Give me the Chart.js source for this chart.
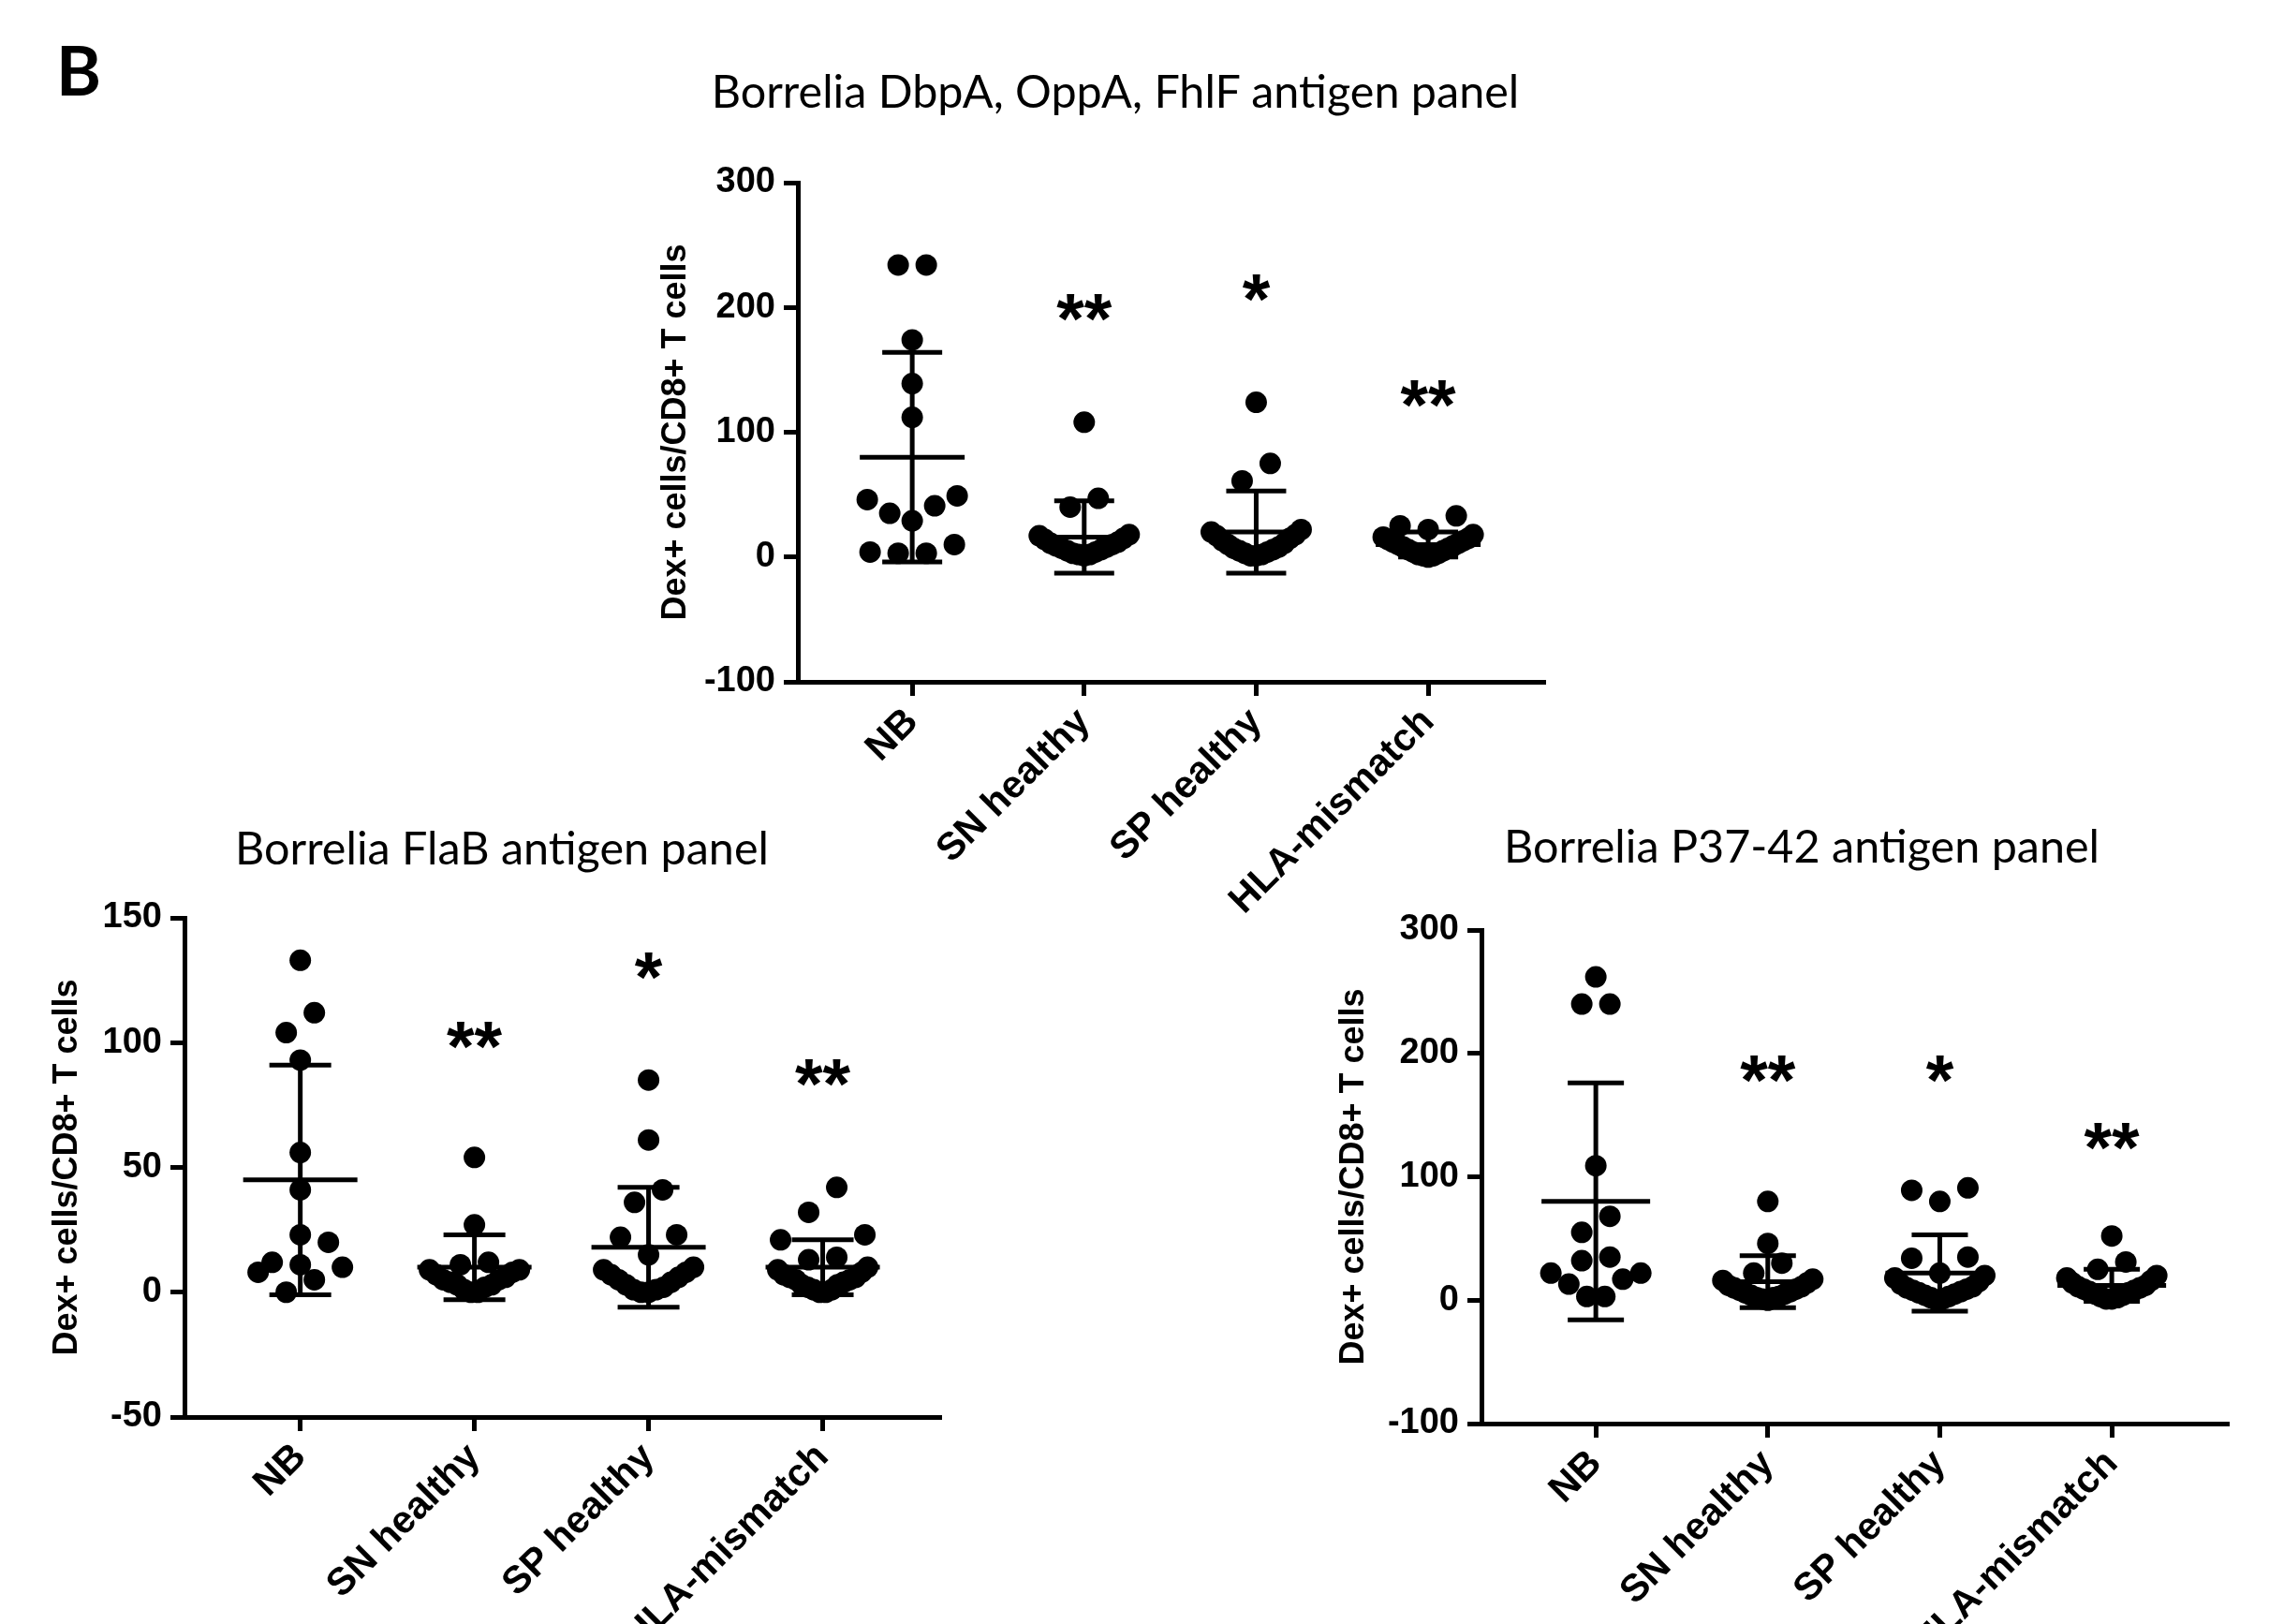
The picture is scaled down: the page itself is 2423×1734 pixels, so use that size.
<!DOCTYPE html>
<html>
<head>
<meta charset="utf-8">
<script src="https://cdn.jsdelivr.net/npm/chart.js@4.4.1/dist/chart.umd.min.js"></script>
<style>
  html, body { margin: 0; padding: 0; background: #fff; }
  body { width: 2423px; height: 1734px; position: relative; overflow: hidden; }
  canvas { position: absolute; }
  .ttl { position: absolute; font-family: Lato, "Open Sans", sans-serif; font-size: 48.5px; color: #000;
         white-space: nowrap; line-height: 1; transform: translate(-50%, -50%); z-index: 5; }
  #panelLetter { position: absolute; left: 60px; top: 38px; font-family: Lato, "Open Sans", sans-serif;
                 font-weight: bold; font-size: 73px; line-height: 1; color: #000; }
</style>
</head>
<body>
<div id="panelLetter">B</div>
<div class="ttl" style="left:1191px; top:96px;">Borrelia DbpA, OppA, FhlF antigen panel</div>
<div class="ttl" style="left:536px; top:904px;">Borrelia FlaB antigen panel</div>
<div class="ttl" style="left:1924px; top:902px;">Borrelia P37-42 antigen panel</div>

<canvas id="dbpChart" width="1000" height="850" style="left:680px; top:150px;"></canvas>
<canvas id="flabChart" width="1040" height="794" style="left:0px; top:940px;"></canvas>
<canvas id="p37Chart" width="1043" height="784" style="left:1380px; top:950px;"></canvas>

<script>
const groups = ['NB', 'SN healthy', 'SP healthy', 'HLA-mismatch'];
const yTitle = 'Dex+ cells/CD8+ T cells';

// DbpA, OppA, FhlF panel
const dbpNB  = [234, 234, 174, 139, 112, 49, 46, 41, 35, 29, 10, 4, 3, 3];
const dbpSN  = [108, 47, 40, 18, 17, 15, 14, 12, 11, 10, 9, 8, 7, 6, 5, 4, 3, 2, 2, 1];
const dbpSP  = [124, 75, 61, 22, 20, 18, 17, 15, 13, 11, 10, 8, 7, 6, 5, 4, 3, 2, 1, 1];
const dbpHLA = [33, 25, 22, 18, 16, 15, 14, 13, 12, 11, 10, 9, 8, 7, 6, 5, 4, 3, 2, 1, 1, 0];
const dbpMean = [80, 16, 20, 10];
const dbpSD   = [84, 29, 33, 10];
const dbpStars  = ['', '**', '*', '**'];
const dbpStarAt = [null, 204, 220, 135];
const dbpTicks  = [-100, 0, 100, 200, 300];

// FlaB panel
const flaNB  = [133, 112, 104, 93, 56, 41, 23, 20, 12, 11, 10, 8, 5, 0];
const flaSN  = [54, 27, 12, 11, 9, 9, 8, 7, 6, 5, 5, 4, 3, 3, 2, 1, 0, 0];
const flaSP  = [85, 61, 41, 36, 23, 22, 15, 10, 9, 8, 7, 6, 5, 4, 3, 2, 1, 1, 0, 0];
const flaHLA = [42, 32, 23, 21, 14, 13, 10, 9, 8, 7, 6, 6, 5, 5, 4, 3, 3, 2, 1, 1, 0, 0];
const flaMean = [45, 10, 18, 10];
const flaSD   = [46, 13, 24, 11];
const flaStars  = ['', '**', '*', '**'];
const flaStarAt = [null, 105, 133, 90];
const flaTicks  = [-50, 0, 50, 100, 150];

// P37-42 panel
const p37NB  = [262, 240, 240, 109, 68, 55, 35, 32, 22, 22, 17, 13, 3, 3];
const p37SN  = [80, 46, 30, 22, 17, 16, 14, 12, 11, 10, 9, 8, 7, 6, 5, 4, 3, 2, 2, 1, 0];
const p37SP  = [91, 89, 80, 35, 34, 22, 20, 18, 15, 13, 11, 10, 9, 8, 7, 6, 5, 4, 3, 2, 1, 0];
const p37HLA = [52, 31, 25, 20, 18, 16, 14, 12, 11, 10, 9, 8, 7, 6, 5, 4, 3, 2, 1, 1];
const p37Mean = [80, 15, 22, 12];
const p37SD   = [96, 21, 31, 13];
const p37Stars  = ['', '**', '*', '**'];
const p37StarAt = [null, 192, 192, 137];
const p37Ticks  = [-100, 0, 100, 200, 300];

const yTickFont = { family: '"Liberation Sans", Arial, sans-serif', size: 38, weight: 'bold' };
const xTickFont = { family: '"Liberation Sans", Arial, sans-serif', size: 41, weight: 'bold' };

// asterisks above the groups
const starPlugin = {
    id: 'stars',
    afterDatasetsDraw(chart, args, opts) {
        const { ctx, scales: { x, y } } = chart;
        const size = 76;
        ctx.save();
        ctx.font = 'bold ' + size + 'px "Liberation Sans", Arial, sans-serif';
        ctx.textAlign = 'center';
        ctx.textBaseline = 'alphabetic';
        ctx.fillStyle = '#000';
        opts.marks.forEach((m, i) => {
            if (!m) return;
            ctx.fillText(m, x.getPixelForValue(i), y.getPixelForValue(opts.at[i]) + 0.57 * size);
        });
        ctx.restore();
    }
};

// prism-like scatter: values close together share a row, spread evenly,
// lowest values in the middle of the row
function swarm(vals, yScale) {
    const rowPx = 28, maxSpan = 96, gap = 30;
    const order = vals.map((v, i) => i).sort((a, b) => vals[a] - vals[b]);
    const offs = new Array(vals.length).fill(0);
    let k = 0;
    while (k < order.length) {
        const startPx = yScale.getPixelForValue(vals[order[k]]);
        const row = [];
        while (k < order.length && startPx - yScale.getPixelForValue(vals[order[k]]) <= rowPx) {
            row.push(order[k]);
            k++;
        }
        const n = row.length;
        const s = n > 1 ? Math.min(gap, maxSpan / (n - 1)) : 0;
        const slots = [];
        for (let j = 0; j < n; j++) slots.push((j - (n - 1) / 2) * s);
        slots.sort((a, b) => Math.abs(a) - Math.abs(b) || a - b);
        row.forEach((idx, j) => { offs[idx] = slots[j]; });
    }
    return offs;
}

function makePanel(id, p) {
    const ctx = document.getElementById(id);
    const whisker = [];
    p.mean.forEach((m, i) => {
        whisker.push({ x: i, y: m - p.sd[i] }, { x: i, y: m + p.sd[i] }, { x: i, y: null });
    });
    const chart = new Chart(ctx, {
        type: 'scatter',
        data: {
            datasets: [
                {
                    data: p.series.flatMap((vals, i) => vals.map(v => ({ x: i, y: v }))),
                    backgroundColor: '#000',
                    borderWidth: 0,
                    pointRadius: 11.5,
                    pointHoverRadius: 11.5
                },
                {
                    data: p.mean.map((m, i) => ({ x: i, y: m })),
                    pointStyle: 'line',
                    pointRadius: p.meanHalf,
                    pointHoverRadius: p.meanHalf,
                    borderColor: '#000',
                    borderWidth: 5
                },
                {
                    data: p.mean.flatMap((m, i) => [{ x: i, y: m + p.sd[i] }, { x: i, y: m - p.sd[i] }]),
                    pointStyle: 'line',
                    pointRadius: p.capHalf,
                    pointHoverRadius: p.capHalf,
                    borderColor: '#000',
                    borderWidth: 5
                },
                {
                    type: 'line',
                    data: whisker,
                    borderColor: '#000',
                    borderWidth: 5,
                    pointRadius: 0,
                    spanGaps: false
                }
            ]
        },
        options: {
            responsive: false,
            animation: false,
            layout: { padding: p.pad, autoPadding: false },
            plugins: {
                legend: { display: false },
                tooltip: { enabled: false },
                stars: { marks: p.stars, at: p.starAt }
            },
            scales: {
                x: {
                    type: 'linear',
                    min: -0.665,
                    max: 3.68,
                    afterBuildTicks: (s) => { s.ticks = groups.map((g, i) => ({ value: i })); },
                    afterFit: (s) => { s.height = p.xHeight; },
                    ticks: {
                        autoSkip: false,
                        minRotation: 45,
                        maxRotation: 45,
                        padding: 4,
                        color: '#000',
                        font: xTickFont,
                        callback: (v) => groups[v]
                    },
                    grid: { drawOnChartArea: false, drawTicks: true, tickLength: 15, tickWidth: 5, tickColor: '#000' },
                    border: { display: true, color: '#000', width: 5 }
                },
                y: {
                    min: p.ticks[0],
                    max: p.ticks[p.ticks.length - 1],
                    afterBuildTicks: (s) => { s.ticks = p.ticks.map(v => ({ value: v })); },
                    afterFit: (s) => { s.width = p.yWidth; },
                    ticks: { padding: 9, color: '#000', font: yTickFont },
                    grid: { drawOnChartArea: false, drawTicks: true, tickLength: 15, tickWidth: 5, tickColor: '#000' },
                    border: { display: true, color: '#000', width: 5 },
                    title: {
                        display: true,
                        text: yTitle,
                        color: '#000',
                        padding: { top: p.titlePad, bottom: 0 },
                        font: { family: '"Liberation Sans", Arial, sans-serif', size: 36, weight: 'bold' }
                    }
                }
            }
        },
        plugins: [starPlugin]
    });

    // spread the dots of each group sideways
    const xs = chart.scales.x, ys = chart.scales.y;
    const pxPerCat = xs.getPixelForValue(1) - xs.getPixelForValue(0);
    chart.data.datasets[0].data = p.series.flatMap((vals, i) => {
        const offs = swarm(vals, ys);
        return vals.map((v, k) => ({ x: i + offs[k] / pxPerCat, y: v }));
    });
    chart.update();
    return chart;
}

makePanel('dbpChart', {
    series: [dbpNB, dbpSN, dbpSP, dbpHLA],
    mean: dbpMean, sd: dbpSD, stars: dbpStars, starAt: dbpStarAt, ticks: dbpTicks,
    meanHalf: 56, capHalf: 32,
    pad: { left: 0, top: 45, right: 30, bottom: 0 },
    yWidth: 172, xHeight: 272, titlePad: 20.4
});

makePanel('flabChart', {
    series: [flaNB, flaSN, flaSP, flaHLA],
    mean: flaMean, sd: flaSD, stars: flaStars, starAt: flaStarAt, ticks: flaTicks,
    meanHalf: 61, capHalf: 33,
    pad: { left: 0, top: 40, right: 35, bottom: 0 },
    yWidth: 197, xHeight: 221, titlePad: 50.4
});

makePanel('p37Chart', {
    series: [p37NB, p37SN, p37SP, p37HLA],
    mean: p37Mean, sd: p37SD, stars: p37Stars, starAt: p37StarAt, ticks: p37Ticks,
    meanHalf: 58, capHalf: 30,
    pad: { left: 0, top: 43, right: 43, bottom: 0 },
    yWidth: 202, xHeight: 214, titlePad: 44.4
});
</script>
</body>
</html>
